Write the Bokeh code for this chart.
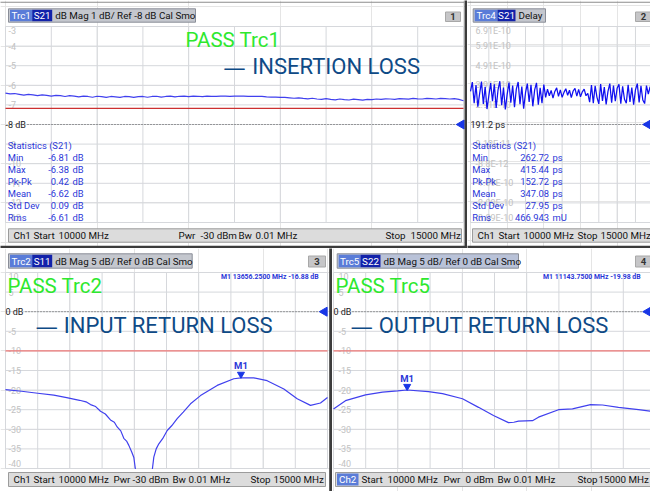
import numpy as np
from bokeh.plotting import figure
from bokeh.models import Range1d
from bokeh.layouts import column, row
from bokeh.embed import file_html
from bokeh.resources import INLINE
from bokeh.core.properties import value

# ---------------- data ----------------
FREQ_START, FREQ_STOP = 10000, 15000
freq_grid = [10000, 10500, 11000, 11500, 12000, 12500, 13000, 13500, 14000, 14500, 15000]

# Trc1 S21 insertion loss (dB), sweep points every 50 MHz
il_freq = list(range(10000, 15001, 50))
il_db = [-6.40, -6.44, -6.42, -6.46, -6.50, -6.46, -6.49, -6.53, -6.49, -6.51,
         -6.55, -6.51, -6.53, -6.57, -6.53, -6.55, -6.59, -6.55, -6.57, -6.61,
         -6.56, -6.58, -6.62, -6.57, -6.59, -6.62, -6.57, -6.58, -6.62, -6.58,
         -6.57, -6.61, -6.57, -6.56, -6.60, -6.57, -6.55, -6.59, -6.56, -6.55,
         -6.58, -6.55, -6.56, -6.58, -6.55, -6.56, -6.57, -6.55, -6.55, -6.56,
         -6.55, -6.55, -6.55, -6.56, -6.56, -6.57, -6.57, -6.59, -6.60, -6.60,
         -6.62, -6.62, -6.64, -6.66, -6.64, -6.67, -6.69, -6.66, -6.70, -6.72,
         -6.68, -6.72, -6.74, -6.70, -6.73, -6.75, -6.71, -6.73, -6.76, -6.72,
         -6.73, -6.70, -6.72, -6.69, -6.70, -6.72, -6.68, -6.69, -6.71, -6.67,
         -6.69, -6.70, -6.67, -6.68, -6.70, -6.67, -6.68, -6.70, -6.68, -6.72,
         -6.79]
il_ticks = [-3, -4, -5, -6, -7, -8, -9, -10, -11, -12, -13]
il_tick_labels = ["-3", "-4", "-5", "-6", "-7", "-8 dB", "-9", "-10", "-11", "-12", "-13"]
il_ref = -8.0
il_limit = -7.18

# Trc4 S21 group delay (ps)
dl_freq = list(range(10000, 15001, 50))
dl_ps = [360, 408, 300, 392, 282, 350, 410, 296, 384, 270,
         338, 402, 310, 396, 276, 366, 412, 290, 380, 268,
         345, 405, 302, 390, 280, 372, 408, 295, 385, 272,
         352, 400, 306, 394, 284, 368, 404, 292, 378, 300,
         395,
         330, 372, 338, 365, 326, 360, 378, 335, 368, 330,
         355, 374, 340, 366, 328, 362, 376, 336, 370, 332,
         358, 372, 338, 350,
         305, 392, 300, 388, 330, 296, 398, 312, 382, 294,
         360, 400, 302, 390, 310, 376, 396, 298, 386, 320,
         300, 394, 306, 380, 292, 368, 400, 304, 388, 316,
         298, 390, 346, 384, 310, 370]
dl_ticks = [691.2, 591.2, 491.2, 391.2, 291.2, 191.2, 91.2, -8.8, -108.8, -208.8, -308.8]
dl_tick_labels = ["6.91E-10", "5.91E-10", "4.91E-10", "3.91E-10", "2.91E-10", "191.2 ps",
                  "9.12E-11", "-8.8E-12", "-1.09E-10", "-2.09E-10", "-3.09E-10"]
dl_ref = 191.2

# return loss panels
rl_ticks = [10, 5, 0, -5, -10, -15, -20, -25, -30, -35, -40]
rl_tick_labels = ["10", "5", "0 dB", "-5", "-10", "-15", "-20", "-25", "-30", "-35", "-40"]
rl_ref = 0.0
rl_limit = -10.0

s11_freq = [10000, 10250, 10500, 10750, 10950, 11150, 11250, 11320, 11400, 11475, 11550,
            11630, 11690, 11734, 11790, 11837, 11880, 11915, 11960, 11993, 12040, 12150,
            12260, 12303, 12340, 12381, 12440, 12511, 12580, 12666, 12760, 12873, 13028,
            13287, 13545, 13656.25, 13856, 14063, 14322, 14529, 14736, 14891, 15000]
s11_db = [-19.9, -20.3, -20.8, -21.3, -21.9, -22.6, -23.0, -23.7, -24.2, -25.4, -26.1,
          -27.6, -28.2, -29.4, -30.4, -32.3, -33.0, -34.1, -35.8, -37.2, -43.0, -52.0,
          -43.0, -37.1, -35.0, -33.7, -32.4, -30.3, -29.1, -27.3, -25.6, -23.5, -21.4,
          -18.8, -17.1, -16.88, -16.9, -17.6, -19.7, -22.2, -23.9, -23.3, -21.9]
s22_freq = [10000, 10186, 10497, 10761, 10994, 11143.75, 11475, 11693, 12003, 12252, 12484,
            12717, 12800, 12873, 13090, 13183, 13494, 13711, 13991, 14177, 14425, 14736,
            14922, 15000]
s22_db = [-24.8, -22.7, -21.2, -20.5, -20.2, -19.98, -20.4, -20.9, -22.2, -24.4, -26.5,
          -28.3, -28.2, -27.9, -27.8, -26.9, -25.0, -24.8, -23.7, -23.8, -24.4, -25.0,
          -25.4, -25.6]
s11_m1 = (13656.25, -16.88)
s22_m1 = (11143.75, -19.98)

stat_names = ["Min", "Max", "Pk-Pk", "Mean", "Std Dev", "Rms"]
il_stat_vals = ["-6.81", "-6.38", "0.42", "-6.62", "0.09", "-6.61"]
il_stat_units = ["dB", "dB", "dB", "dB", "dB", "dB"]
dl_stat_vals = ["262.72", "415.44", "152.72", "347.08", "27.95", "466.943"]
dl_stat_units = ["ps", "ps", "ps", "ps", "ps", "mU"]

# ---------------- layout ----------------
REF_W, REF_H = 650.0, 491.0
OUT_W, OUT_H = 650, 491
SX, SY = OUT_W / REF_W, OUT_H / REF_H
FS = 1.0
W_A, H_T, W_C = 467, 248, 332
XA, YT, XC = W_A / SX, H_T / SY, W_C / SX

FONT = "Roboto"
GRID_C = "#d6d8dc"
LBL_C = "#c2c2c2"
TRACE_C = "#4040ee"
STAT_C = "#2a36d8"
SEP_C = "#3c3c3c"
TITLE_C = "#0e4a86"
PASS_C = "#2ee82e"


def make_panel(px_x0, px_x1, px_y0, px_y1, plot_x0, plot_x1, plot_y0, plot_y1, ticks):
    w = int(round((px_x1 - px_x0) * SX))
    h = int(round((px_y1 - px_y0) * SY))
    kx = (FREQ_STOP - FREQ_START) / (plot_x1 - plot_x0)
    xs = FREQ_START + (px_x0 - plot_x0) * kx
    xe = FREQ_START + (px_x1 - plot_x0) * kx
    vt, vb = ticks[0], ticks[-1]
    ky = (vb - vt) / (plot_y1 - plot_y0)
    ytop = vt + (px_y0 - plot_y0) * ky
    ybot = vt + (px_y1 - plot_y0) * ky
    p = figure(width=w, height=h, x_range=Range1d(xs, xe), y_range=Range1d(ybot, ytop),
               output_backend="svg", toolbar_location=None, tools="",
               x_axis_location=None, y_axis_location=None, min_border=0,
               outline_line_color=None, background_fill_color="white",
               border_fill_color="white", title=None)
    p.extra_x_ranges = {"px": Range1d(px_x0, px_x1)}
    p.extra_y_ranges = {"px": Range1d(px_y1, px_y0)}
    n = len(freq_grid)
    p.segment(x0=freq_grid, y0=[vb] * n, x1=freq_grid, y1=[vt] * n, line_color=GRID_C, line_width=1)
    m = len(ticks)
    p.segment(x0=[FREQ_START] * m, y0=ticks, x1=[FREQ_STOP] * m, y1=ticks, line_color=GRID_C, line_width=1)
    return p


def T(p, x, y, s, size, color, align="left", baseline="middle", bold=False, font=FONT):
    p.text(x=[x], y=[y], text=[s], x_range_name="px", y_range_name="px",
           text_font=value(font), text_font_size=value(f"{size * FS:.2f}px"),
           text_color=color, text_align=align, text_baseline=baseline,
           text_font_style="bold" if bold else "normal")


def Q(p, l, r, t, b, fill, line=None):
    p.quad(left=[l], right=[r], top=[t], bottom=[b], x_range_name="px", y_range_name="px",
           fill_color=fill, line_color=line, line_width=1)


def tick_labels(p, ticks, labels, ref_label, off):
    cols = ["#222222" if l == ref_label else LBL_C for l in labels]
    xo = [0 if l == ref_label else off * SX for l in labels]
    yo = [0.0] * len(ticks)
    yo[0] = 4 * SY
    yo[-1] = -5 * SY
    p.text(x=[FREQ_START] * len(ticks), y=ticks, text=labels, x_offset=xo, y_offset=yo,
           text_font=value(FONT), text_font_size=value(f"{9 * FS:.2f}px"),
           text_color=cols, text_align="left", text_baseline="middle")


def ref_line(p, x0, x1, ref):
    p.segment(x0=[x0], x1=[x1], y0=[ref], y1=[ref], x_range_name="px",
              line_color="#555555", line_width=1, line_dash="1 2")


def ref_tri(p, x, ref):
    p.scatter(x=[x], y=[ref], x_range_name="px", marker="triangle", angle=np.pi / 2,
              size=9, fill_color="#1836e6", line_color="#1836e6")


def header(p, x0, x1, y0, y1, tx1, sx1, trc, sp, rest, fill):
    Q(p, x0, x1, y0, y1, fill, "#8a8e98")
    Q(p, x0 + 1.5, tx1, y0 + 1, y1 - 1, "#5a7cd8")
    Q(p, tx1, sx1, y0 + 1, y1 - 1, "#1222aa")
    yc = (y0 + y1) / 2
    T(p, (x0 + 1.5 + tx1) / 2, yc, trc, 9.8, "white", align="center")
    T(p, (tx1 + sx1) / 2, yc, sp, 9.8, "white", align="center")
    T(p, sx1 + 3, yc, rest, 9.8, "#111111")


def numbox(p, x0, x1, y0, y1, s):
    Q(p, x0, x1, y0, y1, "#c6c6c8", "#a8a8a8")
    T(p, (x0 + x1) / 2, (y0 + y1) / 2, s, 9.5, "#333333", align="center", bold=True)


def footer(p, x0, x1, y0, y1, items):
    Q(p, x0, x1, y0, y1, "#dcdcdc", "#9c9c9c")
    yc = (y0 + y1) / 2
    for x, s in items:
        T(p, x, yc, s, 9.8, "#111111")


def stats(p, xl, xv, xu, vals, units):
    y0, dy = 145.0, 11.95
    T(p, xl, y0, "Statistics  (S21)", 9.4, STAT_C)
    ys = [y0 + dy * (i + 1) for i in range(len(stat_names))]
    common = dict(x_range_name="px", y_range_name="px", text_font=value(FONT),
                  text_font_size=value(f"{9.4 * FS:.2f}px"), text_color=STAT_C,
                  text_baseline="middle")
    p.text(x=[xl] * 6, y=ys, text=stat_names, text_align="left", **common)
    p.text(x=[xv] * 6, y=ys, text=vals, text_align="right", **common)
    p.text(x=[xu] * 6, y=ys, text=units, text_align="left", **common)


def title(p, xd, xw, yc, words):
    T(p, xd, yc + 1.5, "\u2014", 22.5, TITLE_C, font="DejaVu Sans")
    T(p, xw, yc, words, 22, TITLE_C)


# ---------- Panel A: insertion loss ----------
pA = make_panel(0, XA, 0, YT, 5, 463, 26, 222, il_ticks)
tick_labels(pA, il_ticks, il_tick_labels, "-8 dB", 3)
pA.segment(x0=[FREQ_START], x1=[FREQ_STOP], y0=[il_limit], y1=[il_limit], line_color="#cc3030", line_width=1.3)
ref_line(pA, 27, 457, il_ref)
pA.line(il_freq, il_db, line_color=TRACE_C, line_width=1.2)
ref_tri(pA, 461, il_ref)
Q(pA, 464, XA + 1, -1, YT + 1, SEP_C)
Q(pA, -1, XA + 1, 245.3, YT + 1, SEP_C)
Q(pA, -1, 464, 1.2, 2.2, "#8c8c8c")
T(pA, 185, 39.5, "PASS  Trc1", 20.5, PASS_C)
title(pA, 222.7, 251.7, 66, "INSERTION LOSS")
stats(pA, 7.3, 68.5, 72, il_stat_vals, il_stat_units)
header(pA, 8, 195, 8.3, 21.7, 31.7, 51.7, "Trc1", "S21", "dB Mag  1 dB/ Ref -8 dB  Cal Smo", "#c4c7ce")
numbox(pA, 445, 460, 11.5, 21, "1")
footer(pA, 8, 461, 228.3, 241.7, [(13, "Ch1"), (33, "Start"), (58, "10000 MHz"), (178, "Pwr"),
                                   (200, "-30 dBm"), (238, "Bw"), (255, "0.01 MHz"),
                                   (385, "Stop"), (410, "15000 MHz")])

# ---------- Panel B: delay ----------
pB = make_panel(XA, REF_W, 0, YT, 470, 653.3, 26, 222, dl_ticks)
tick_labels(pB, dl_ticks, dl_tick_labels, "191.2 ps", 5)
ref_line(pB, 507, 644, dl_ref)
pB.line(dl_freq, dl_ps, line_color="#1010f0", line_width=1.25)
ref_tri(pB, 647.5, dl_ref)
Q(pB, XA - 1, REF_W + 1, 245.3, YT + 1, SEP_C)
Q(pB, XA - 1, REF_W + 1, 1.2, 2.2, "#8c8c8c")
stats(pB, 471.7, 548.5, 552, dl_stat_vals, dl_stat_units)
header(pB, 472.7, 545, 8.3, 21.7, 497, 515, "Trc4", "S21", "Delay", "#c4c7ce")
numbox(pB, 635, 651, 11.5, 21, "2")
footer(pB, 472, 652, 228.3, 241.7, [(477, "Ch1"), (498, "Start"), (523, "10000 MHz"),
                                     (577, "Stop"), (600, "15000 MHz")])

# ---------- Panel C: S11 ----------
pC = make_panel(0, XC, YT, REF_H, 5, 327, 272, 468, rl_ticks)
tick_labels(pC, rl_ticks, rl_tick_labels, "0 dB", 3)
pC.segment(x0=[FREQ_START], x1=[FREQ_STOP], y0=[rl_limit], y1=[rl_limit], line_color="#f07878", line_width=1.3)
ref_line(pC, 25, 319, rl_ref)
pC.line(s11_freq, s11_db, line_color=TRACE_C, line_width=1.2)
Q(pC, -1, XC + 1, 468.6, REF_H + 1, "white")
ref_tri(pC, 324, rl_ref)
kdb = 5.0 / 19.6
pC.scatter(x=[s11_m1[0]], y=[s11_m1[1] + 3.6 * kdb], marker="inverted_triangle", size=7,
           fill_color="#1836e6", line_color="#1836e6")
pC.text(x=[s11_m1[0]], y=[s11_m1[1]], text=["M1"], y_offset=[-12 * SY], text_align="center",
        text_baseline="middle", text_font=value(FONT), text_font_size=value(f"{9.5 * FS:.2f}px"),
        text_color="#2a36d8", text_font_style="bold")
Q(pC, 328.7, XC + 1, YT - 1, REF_H + 1, SEP_C)
T(pC, 7, 285.8, "PASS  Trc2", 20.5, PASS_C)
title(pC, 35, 63.3, 325, "INPUT RETURN LOSS")
T(pC, 325, 276.5, "M1  13656.2500  MHz  -16.88  dB", 6.9, "#2a36d8", align="right", bold=True)
header(pC, 8, 191.7, 253.3, 267.7, 31.7, 51.7, "Trc2", "S11", "dB Mag  5 dB/ Ref 0 dB  Cal Smo", "#c4c7ce")
numbox(pC, 308, 325, 255.5, 266.5, "3")
footer(pC, 8, 325, 472, 486, [(13, "Ch1"), (33, "Start"), (58, "10000 MHz"), (113, "Pwr"),
                               (132, "-30 dBm"), (172, "Bw"), (188, "0.01 MHz"),
                               (250, "Stop"), (273, "15000 MHz")])

# ---------- Panel D: S22 ----------
pD = make_panel(XC, REF_W, YT, REF_H, 333, 655, 272, 468, rl_ticks)
tick_labels(pD, rl_ticks, rl_tick_labels, "0 dB", 5)
pD.segment(x0=[FREQ_START], x1=[FREQ_STOP], y0=[rl_limit], y1=[rl_limit], line_color="#f07878", line_width=1.3)
ref_line(pD, 352, 644, rl_ref)
pD.line(s22_freq, s22_db, line_color=TRACE_C, line_width=1.2)
ref_tri(pD, 647.5, rl_ref)
pD.scatter(x=[s22_m1[0]], y=[s22_m1[1] + 3.6 * kdb], marker="inverted_triangle", size=7,
           fill_color="#1836e6", line_color="#1836e6")
pD.text(x=[s22_m1[0]], y=[s22_m1[1]], text=["M1"], y_offset=[-12 * SY], text_align="center",
        text_baseline="middle", text_font=value(FONT), text_font_size=value(f"{9.5 * FS:.2f}px"),
        text_color="#2a36d8", text_font_style="bold")
T(pD, 335, 285.8, "PASS  Trc5", 20.5, PASS_C)
title(pD, 350, 378.3, 325, "OUTPUT RETURN LOSS")
T(pD, 647, 276.5, "M1  11143.7500  MHz  -19.98  dB", 6.9, "#2a36d8", align="right", bold=True)
header(pD, 336.7, 518, 253.3, 267.7, 360, 380, "Trc5", "S22", "dB Mag  5 dB/ Ref 0 dB  Cal Smo", "#b9c2d8")
numbox(pD, 635, 651, 255.5, 266.5, "4")
Q(pD, 335, 652, 472, 486, "#dcdcdc", "#9c9c9c")
Q(pD, 336.5, 358, 473, 485, "#5a7cd8")
T(pD, 347.2, 479, "Ch2", 9.8, "white", align="center")
for x, s in [(361, "Start"), (387, "10000 MHz"), (443, "Pwr"), (465, "0 dBm"), (497, "Bw"),
             (513, "0.01 MHz"), (577, "Stop"), (598, "15000 MHz")]:
    T(pD, x, 479, s, 9.8, "#111111")

layout = column(row(pA, pB, spacing=0), row(pC, pD, spacing=0), spacing=0)
open("out.html", "w").write(file_html(layout, INLINE))
